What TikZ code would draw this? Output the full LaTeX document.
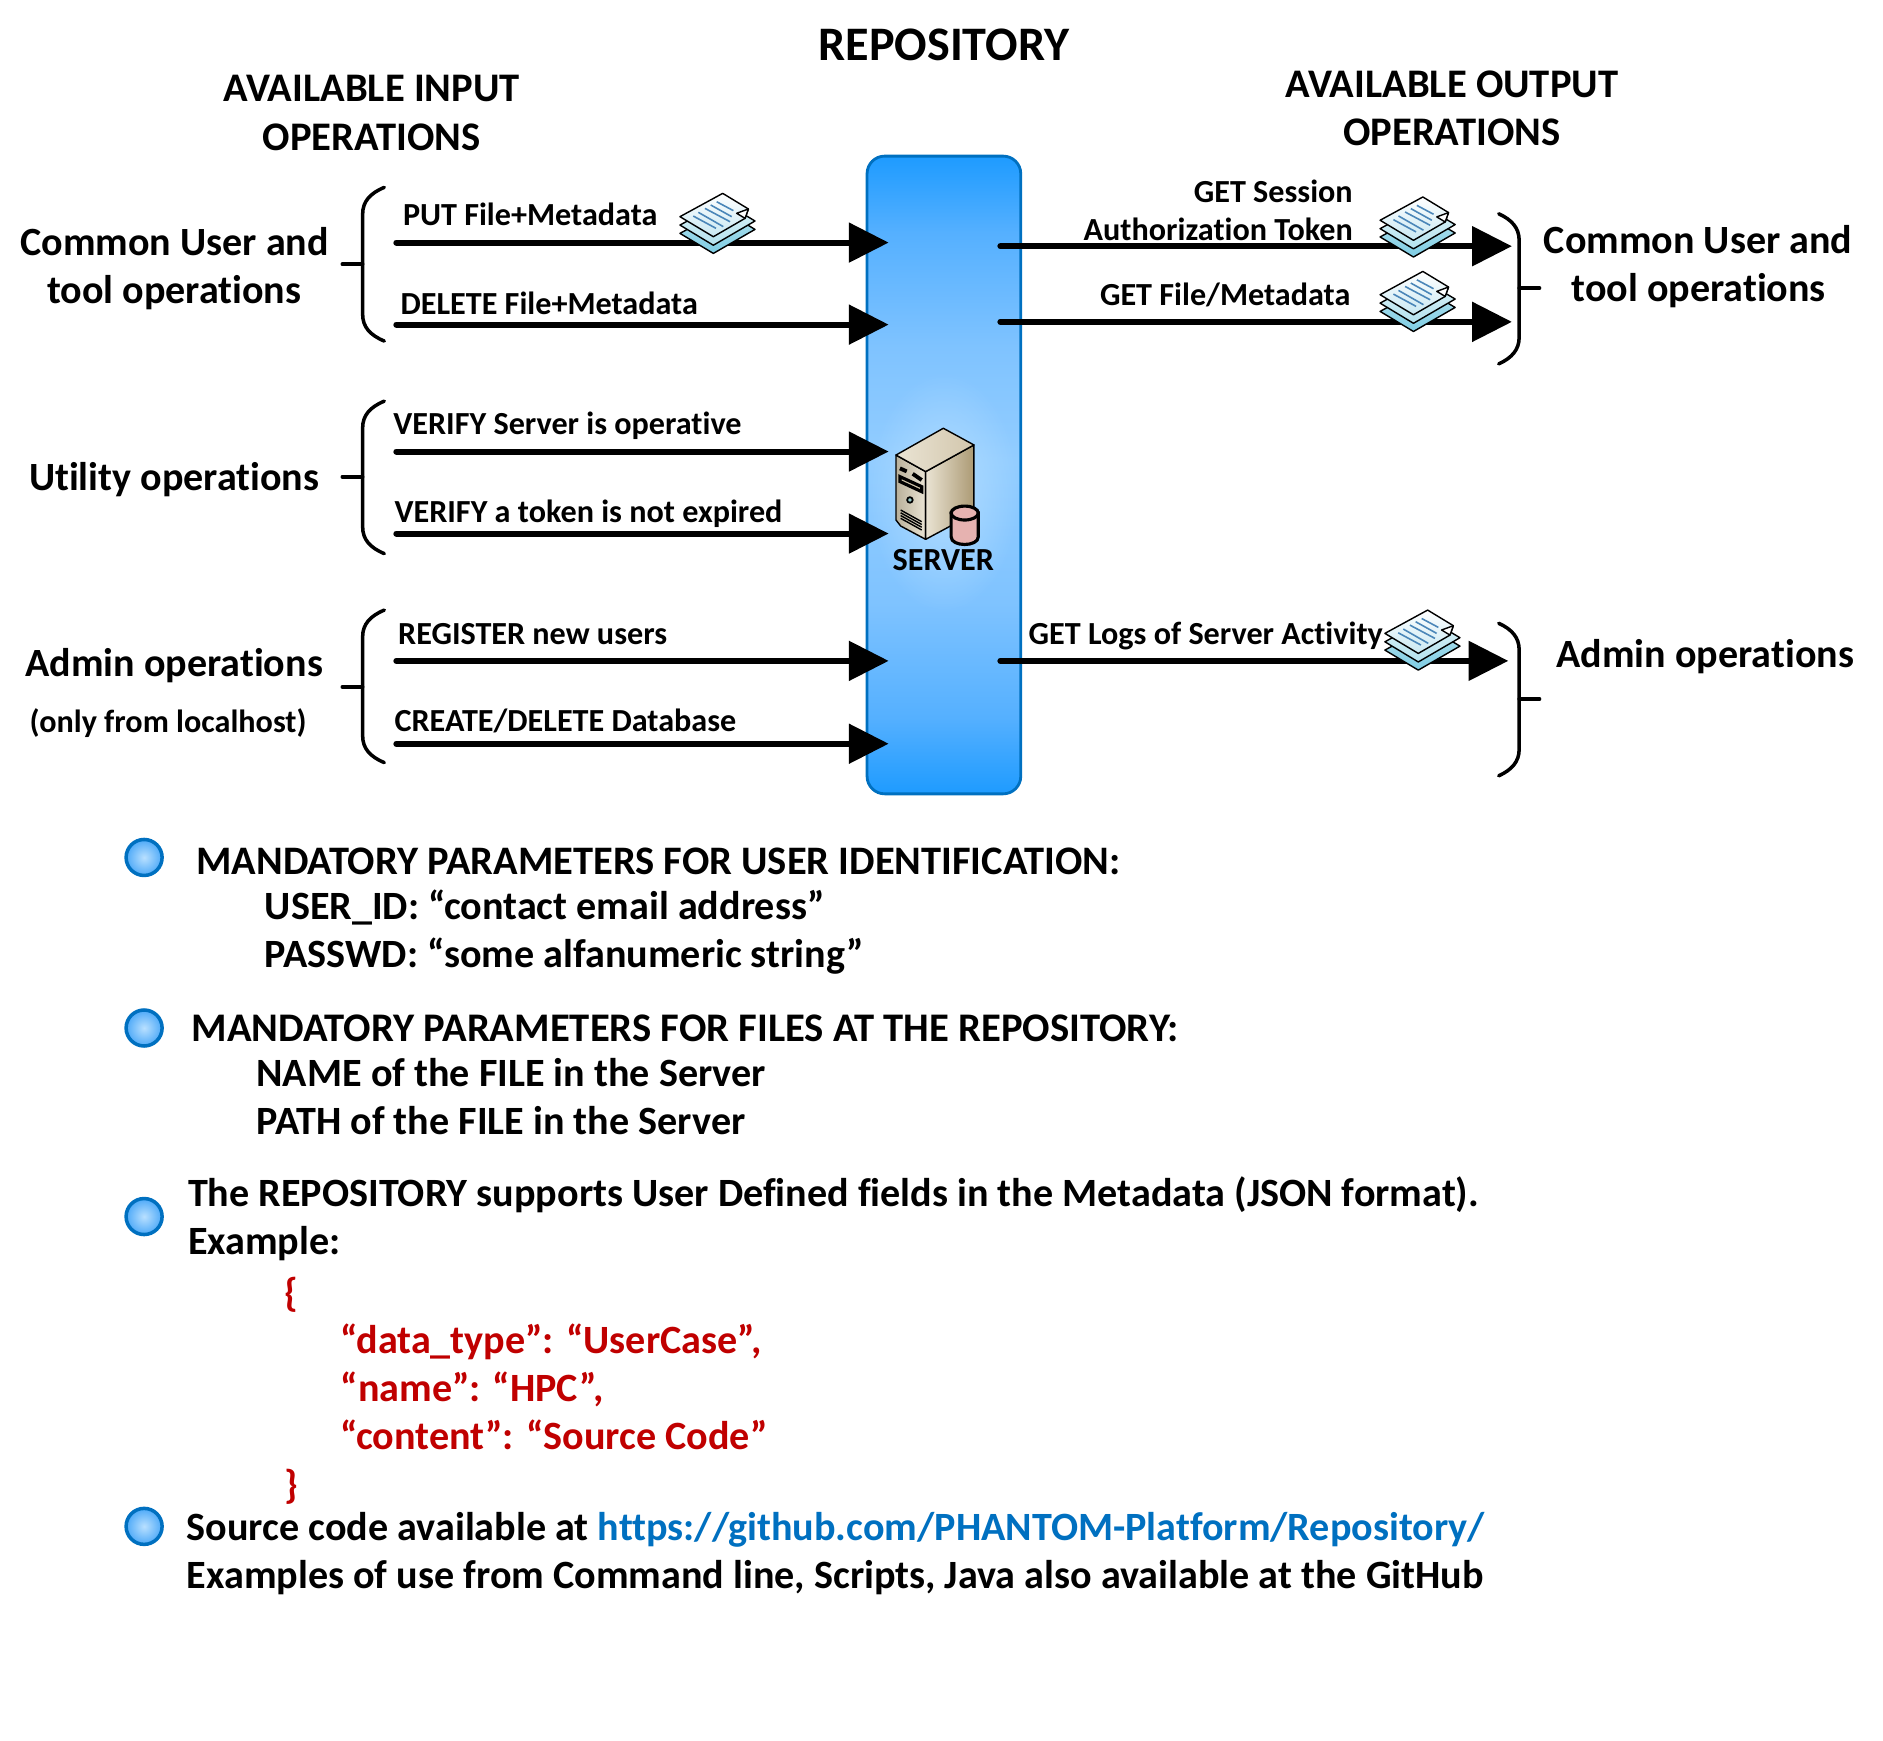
\documentclass[tikz,border=0pt]{standalone}
\usepackage{fontspec}
\setmainfont{Carlito}[Ligatures=NoCommon]
\usetikzlibrary{arrows.meta,fadings}
\tikzfading[name=bandglow,inner color=transparent!0,outer color=transparent!100]
\definecolor{bandedge}{HTML}{0070C0}
\definecolor{redtxt}{HTML}{C00000}
\definecolor{linktxt}{HTML}{0070C0}
\definecolor{bandA}{HTML}{1E9BFF}
\definecolor{bandB}{HTML}{55B0FF}
\definecolor{bandC}{HTML}{7FC3FF}
\definecolor{bandD}{HTML}{93CDFF}
\definecolor{bandE}{HTML}{B2DDFF}
\pgfdeclareverticalshading{bandsh}{100bp}{
 color(0bp)=(bandA); color(25bp)=(bandA); color(31bp)=(bandB); color(40bp)=(bandC); color(51bp)=(bandD); color(60bp)=(bandC); color(69bp)=(bandB); color(75bp)=(bandA); color(100bp)=(bandA)}
\definecolor{bullC}{HTML}{B9E0FF}
\definecolor{bullD}{HTML}{4DA9F8}
\definecolor{docL}{HTML}{4A86B8}
\definecolor{srvA}{HTML}{EAE4D4}
\definecolor{srvB}{HTML}{D2C6AC}
\definecolor{srvC}{HTML}{AC9A74}
\definecolor{srvD}{HTML}{B9B09A}
\definecolor{cylA}{HTML}{E6B2B0}
\definecolor{doctop}{HTML}{C8E8F2}
\definecolor{doclight}{HTML}{DDF2F7}
\definecolor{docmid}{HTML}{B4E2EE}
\definecolor{docdark}{HTML}{7ECDE4}
\tikzset{
 big/.style={font=\fontsize{11.4}{14}\selectfont\bfseries,inner sep=0pt},
 head/.style={font=\fontsize{11.55}{14}\selectfont\bfseries,inner sep=0pt},
 title/.style={font=\fontsize{13.7}{16}\selectfont\bfseries,inner sep=0pt},
 small/.style={font=\fontsize{9.15}{11}\selectfont\bfseries,inner sep=0pt},
 body/.style={font=\fontsize{11.42}{14}\selectfont\bfseries,inner sep=0pt,anchor=base west},
 bodycaps/.style={body,font=\fontsize{11.52}{14}\selectfont\bfseries},
 bodycapsb/.style={body,font=\fontsize{11.56}{14}\selectfont\bfseries},
 code/.style={body,text=redtxt},
 lab/.style={small,anchor=base west},
 labr/.style={small,anchor=base east},
 conn/.style={line width=1.7pt,line cap=round,-{Triangle[length=11.3pt,width=11pt]}},
 brace/.style={line width=1pt,line cap=round},
 bullet/.style={circle,draw=bandedge,line width=1pt,inner color=bullC,outer color=bullD,minimum size=.36cm,inner sep=0pt},
 sheet/.style={draw=black,line width=.4pt,line join=round},
 srvface/.style={draw=black,line width=.4pt,line join=round},
 pics/docs/.style={code={
  \path[sheet,top color=docmid,bottom color=docdark] (-30.8,8.3)--(4.8,-11)--(31.7,5)--(-3,25)--cycle;
  \path[sheet,top color=doclight,bottom color=docmid] (-30.8,1.4)--(4.8,-18)--(31.7,-2)--(-3,18.2)--cycle;
  \path[sheet,top color=white,bottom color=doctop] (-30.8,-5.6)--(4.8,-25)--(26.2,-12)--(23.4,-4.2)--(-3,11.1)--cycle;
  \draw[sheet,fill=white] (26.2,-12)--(16.4,-8.4)--(23.4,-4.2)--cycle;
  \foreach \a/\b/\c/\d in {-0.2/-18/13.7/-10.6,-5.2/-15.3/12.3/-5.6,-10/-12.5/10.9/-1.4,-15.5/-9.2/5.3/2.7,-19.7/-6.1/-0.8/4.1}{\draw[docL,line width=.45pt] (\a,\b)--(\c,\d);}
 }}
}
\begin{document}
\begin{tikzpicture}[x=0.012009cm,y=-0.012009cm]
\useasboundingbox (0,0) rectangle (1568,1449.7);
% band
\node (band) [draw=bandedge,line width=.8pt,rounded corners=5pt,shading=bandsh,minimum width=1.537cm,minimum height=6.377cm,inner sep=0pt] at (786,395.5) {};
\fill[bandE,path fading=bandglow] (786,410) ellipse [x radius=63,y radius=100];
% titles
\node[title] (repo) at (786,37) {REPOSITORY};
\node[head] (ai1) at (309.5,74) {AVAILABLE INPUT};
\node[head] (ai2) at (309.5,114) {OPERATIONS};
\node[head] (ao1) at (1209,70) {AVAILABLE OUTPUT};
\node[head] (ao2) at (1209,110) {OPERATIONS};
% left labels
\node[big] (l1a) at (145.5,201) {Common User and};
\node[big] (l1b) at (145,243.5) {tool operations};
\node[big] (l2) at (145,399.5) {Utility operations};
\node[big] (l3) at (145,554.5) {Admin operations};
\node[small] (l3b) at (140,602) {(only from localhost)};
\node[big] (r1a) at (1414,199.5) {Common User and};
\node[big] (r1b) at (1414.5,242) {tool operations};
\node[big] (r3) at (1420,547) {Admin operations};
% braces
\foreach \n/\t/\m/\b in {a/156/220/284,b/334/397/461,c/508/572/635}{
 \coordinate (bs\n) at (285,\m);
 \coordinate (bm\n) at (302,\m);
 \draw[brace] (320,\t) .. controls (308,\t+5) and (302,\t+12) .. (302,\t+22) -- (302,\b-22) .. controls (302,\b-12) and (308,\b-5) .. (320,\b);
 \draw[brace] (bs\n) -- (bm\n);
}
\foreach \n/\t/\m/\b in {d/178/240/303,e/519/582/646}{
 \coordinate (bs\n) at (1282,\m);
 \coordinate (bm\n) at (1265,\m);
 \draw[brace] (1248,\t) .. controls (1259,\t+5) and (1265,\t+12) .. (1265,\t+22) -- (1265,\b-22) .. controls (1265,\b-12) and (1259,\b-5) .. (1248,\b);
 \draw[brace] (bs\n) -- (bm\n);
}
% connectors
\foreach \n/\y in {1/202,2/270.3,3/376,4/444.3,5/550.3,6/619.3}{
 \coordinate (is\n) at (330,\y);
 \coordinate (ie\n) at (740,\y);
 \draw[conn] (is\n) -- (ie\n);
}
\foreach \n/\y/\e in {1/205/1259,2/268/1259,3/550.3/1256}{
 \coordinate (os\n) at (833,\y);
 \coordinate (oe\n) at (\e,\y);
 \draw[conn] (os\n) -- (oe\n);
}
% connector labels
\node[lab] (t1) at (335,188) {PUT File+Metadata};
\node[lab] (t2) at (333,262) {DELETE File+Metadata};
\node[lab] (t3) at (327,362) {VERIFY Server is operative};
\node[lab] (t4) at (328,435) {VERIFY a token is not expired};
\node[lab] (t5) at (331,537) {REGISTER new users};
\node[lab] (t6) at (328,609) {CREATE/DELETE Database};
\node[labr] (t7) at (1127,168.5) {GET Session};
\node[labr] (t8) at (1127,200) {Authorization Token};
\node[labr] (t9) at (1125,254) {GET File/Metadata};
\node[lab] (t10) at (856,537) {GET Logs of Server Activity};
% doc icons
\pic at (597,186) {docs};
\pic at (1180,189) {docs};
\pic at (1180,251) {docs};
\pic at (1184,533) {docs};
% server
\path[srvface,left color=srvD,right color=srvA] (746.1,378.9)--(770.8,392.7)--(770.8,449.1)--(750,438)--(746.1,433)--cycle;
\path[srvface,left color=srvA,middle color=white,right color=srvC] (770.8,392.7)--(811,370.5)--(811,427.5)--(770.8,449.1)--cycle;
\path[srvface,left color=srvA,right color=srvB] (785.5,356.6)--(746.1,378.9)--(770.8,392.7)--(811,370.5)--cycle;
\draw[line width=1.1pt] (749.4,390)--(755,392.5);
\draw[line width=1.1pt] (760,394.5)--(767.5,399.7);
\draw[line width=.9pt,fill=srvB] (749.4,396.9)--(767.5,405.2)--(767.5,409.4)--(749.4,401)--cycle;
\draw[line width=.5pt,fill=teal!40] (757.7,416.3) circle (2.3);
\foreach \i in {0,1,2,3}{\draw[line width=.4pt] (750,424.7+\i*2.3)--(767.5,434.4+\i*2.3);}
\path[draw=black,line width=.9pt,fill=cylA] (792,427.2) -- (792,447) .. controls (792,455.5) and (814.6,455.5) .. (814.6,447) -- (814.6,427.2) -- cycle;
\path[draw=black,line width=.9pt,fill=cylA] (803.3,427.2) ellipse [x radius=11.3,y radius=5.8];
\node[small] (srv) at (785.5,466) {SERVER};
% bullets
\node[bullet] (b1) at (120,714) {};
\node[bullet] (b2) at (120,856) {};
\node[bullet] (b3) at (120,1013) {};
\node[bullet] (b4) at (120,1271) {};
% body
\node[bodycaps] (p1) at (163,728.2) {MANDATORY PARAMETERS FOR USER IDENTIFICATION:};
\node[body] (p2) at (220,765.5) {USER\_ID: “contact email address”};
\node[body] (p3) at (220,805.5) {PASSWD: “some alfanumeric string”};
\node[bodycapsb] (p4) at (159,867) {MANDATORY PARAMETERS FOR FILES AT THE REPOSITORY:};
\node[body] (p5) at (213,905) {NAME of the FILE in the Server};
\node[body] (p6) at (213,945) {PATH of the FILE in the Server};
\node[body] (p7) at (156,1005) {The REPOSITORY supports User Defined fields in the Metadata (JSON format).};
\node[body] (p8) at (156,1045) {Example:};
\node[code] (c1) at (236,1088) {\{};
\node[code] (c2) at (283,1127.3) {“data\_type”: “UserCase”,};
\node[code] (c3) at (283,1167.3) {“name”: “HPC”,};
\node[code] (c4) at (283,1207.3) {“content”: “Source Code”};
\node[code] (c5) at (236,1248) {\}};
\node[body] (p9) at (155,1282.5) {Source code available at \textcolor{linktxt}{https://github.com/PHANTOM-Platform/Repository/}};
\node[body] (p10) at (155,1322.5) {Examples of use from Command line, Scripts, Java also available at the GitHub};
\end{tikzpicture}
\end{document}
